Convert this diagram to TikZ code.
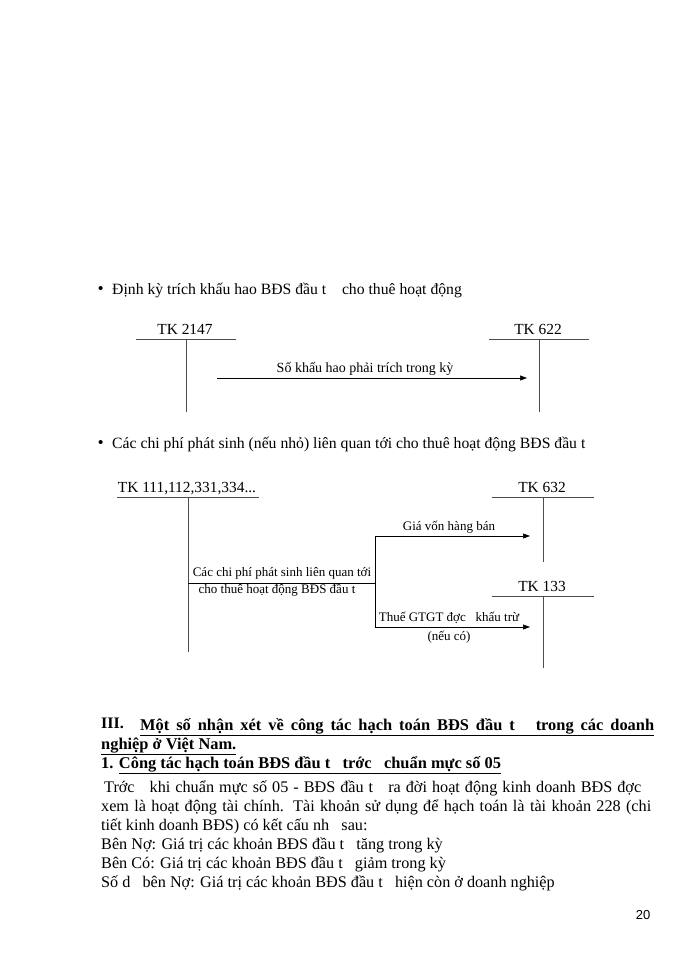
\documentclass[tikz,border=0pt]{standalone}
\usepackage{fontspec}
\setmainfont{Liberation Serif}
\newfontfamily\pagefont{Liberation Sans}
\usetikzlibrary{arrows.meta}

\tikzset{
  acct/.style={line width=0.8pt, draw=black!70},
  flow/.style={line width=0.6pt, -{Triangle[length=7pt,width=5pt]}},
  tklabel/.style={font=\fontsize{15.4}{17}\selectfont, inner sep=0pt, anchor=base},
  lbl/.style={font=\fontsize{13}{15}\selectfont, inner sep=0pt, anchor=base},
  item/.style={font=\fontsize{15.7}{18}\selectfont, inner sep=0pt, anchor=base west},
  body/.style={font=\fontsize{16.2}{19}\selectfont, inner sep=0pt, anchor=base west},
  head/.style={font=\fontsize{16.4}{19}\selectfont\bfseries, inner sep=0pt, anchor=base west},
}

\begin{document}
\begin{tikzpicture}[x=1pt,y=-1pt]
  \useasboundingbox[fill=white] (0,0) rectangle (700,960);

  % bullets
  \node[item, font=\fontsize{15}{16}\selectfont\bfseries] (dot1) at (98,293) {\textbullet};
  \node[item] (item1) at (112,294) {Định kỳ trích khấu hao BĐS đầu t\ \ \ \ cho thuê hoạt động};
  \node[item, font=\fontsize{15}{16}\selectfont\bfseries] (dot2) at (98,447) {\textbullet};
  \node[item] (item2) at (112,448) {Các chi phí phát sinh (nếu nhỏ) liên quan tới cho thuê hoạt động BĐS đầu t};

  % T accounts: name / x of stem / y of top / half width / depth / title
  \foreach \nm/\x/\y/\w/\d/\txt in
    {
        a/186/339/50/73/{TK 2147},
        b/539/339/50/73/{TK 622},
        c/188/497/71/155/{TK 111,112,331,334...},
        d/543/497/51/65/{TK 632},
        e/543/596/51/72/{TK 133}
    }
    {
        \coordinate (\nm l) at (\x-\w,\y);
        \coordinate (\nm r) at (\x+\w,\y);
        \coordinate (\nm t) at (\x,\y);
        \coordinate (\nm b) at (\x,\y+\d);
        \draw[acct] (\nm l) -- (\nm r);
        \draw[acct] (\nm t) -- (\nm b);
        \node[tklabel] (tk\nm) at (\x-1,\y-5) {\txt};
    }

  % depreciation
  \coordinate (ds) at (217,378);
  \coordinate (de) at (527,378);
  \draw[flow] (ds) -- (de);
  \node[lbl, font=\fontsize{14}{16}\selectfont] (dlbl) at (365,372) {Số khấu hao phải trích trong kỳ};

  % costs split into 632 and 133
  \coordinate (cm) at (188,583);
  \coordinate (jn) at (375,583);
  \coordinate (jt) at (375,536);
  \coordinate (jb) at (375,627);
  \coordinate (gin) at (530,536);
  \coordinate (vin) at (530,627);
  \draw[line width=0.6pt] (cm) -- (jn);
  \draw[line width=0.6pt] (jt) -- (jb);
  \draw[flow] (jt) -- (gin);
  \draw[flow] (jb) -- (vin);
  \node[lbl] (clbl1) at (282,576) {Các chi phí phát sinh liên quan tới};
  \node[lbl] (clbl2) at (277,593) {cho thuê hoạt động BĐS đầu t};
  \node[lbl] (glbl) at (449,530) {Giá vốn hàng bán};
  \node[lbl] (vlbl1) at (449,621) {Thuế GTGT đợc\ \ \ khấu trừ};
  \node[lbl] (vlbl2) at (449,640) {(nếu có)};

  % section III
  \node[head, font=\fontsize{16}{17}\selectfont\bfseries] (sec) at (101,728) {III.};
  \node[head] (sect) at (140,730) {\underline{\makebox[514pt][s]{Một số nhận xét về công tác hạch toán BĐS đầu t\ \ \ trong các doanh}}};
  \node[head] (sect2) at (101,749) {\underline{nghiệp ở Việt Nam.}};
  \node[head] (sub) at (101,768) {1. \underline{Công tác hạch toán BĐS đầu t\ \ \ trớc\ \ \ chuẩn mực số 05}};

  \node[body] (p1) at (104,792) {\makebox[537pt][s]{Trớc\ \ \ khi chuẩn mực số 05 - BĐS đầu t\ \ \ ra đời hoạt động kinh doanh BĐS đợc}};
  \node[body] (p2) at (101,811) {\makebox[550pt][s]{xem là hoạt động tài chính. Tài khoản sử dụng để hạch toán là tài khoản 228 (chi}};
  \node[body] (p3) at (101,830) {tiết kinh doanh BĐS) có kết cấu nh\ \ \ sau:};
  \node[body] (p4) at (101,849) {Bên Nợ: Giá trị các khoản BĐS đầu t\ \ \ tăng trong kỳ};
  \node[body] (p5) at (101,868) {Bên Có: Giá trị các khoản BĐS đầu t\ \ \ giảm trong kỳ};
  \node[body] (p6) at (101,887) {Số d\ \ \ bên Nợ: Giá trị các khoản BĐS đầu t\ \ \ hiện còn ở doanh nghiệp};

  \node[font=\pagefont\fontsize{13}{14}\selectfont] (pg) at (643,915) {20};
\end{tikzpicture}
\end{document}
